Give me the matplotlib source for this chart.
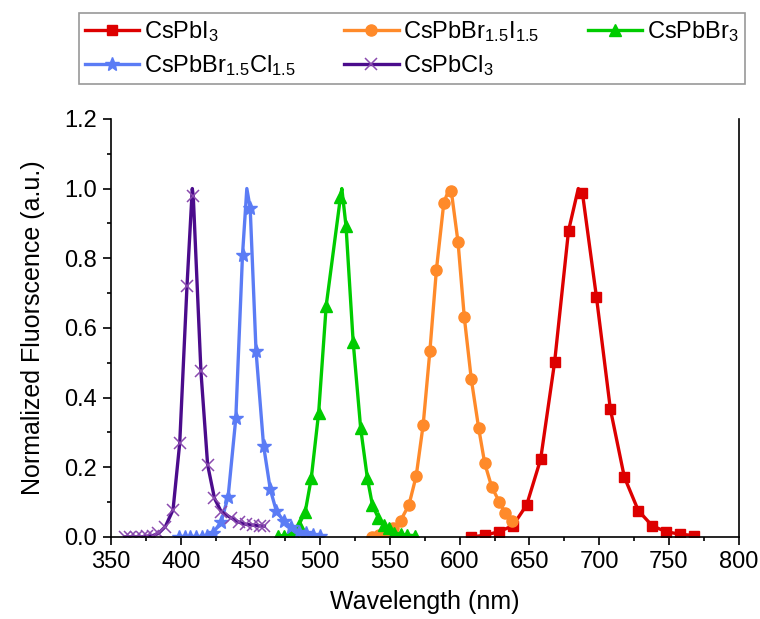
import numpy as np
import matplotlib.pyplot as plt
from matplotlib.ticker import MultipleLocator

plt.rcParams['font.family'] = ['Liberation Sans', 'DejaVu Sans']
plt.rcParams['mathtext.fontset'] = 'custom'
plt.rcParams['mathtext.rm'] = 'Liberation Sans'
plt.rcParams['mathtext.it'] = 'Liberation Sans:italic'

# CsPbI3 (red, squares)
wl_i3 = [608, 618, 628, 638, 648, 658, 668, 678, 688, 698, 708, 718, 728, 738, 748, 758, 768]
pl_i3 = [0.0, 0.005, 0.015, 0.032, 0.092, 0.223, 0.501, 0.879, 0.986, 0.689, 0.367,
         0.172, 0.076, 0.032, 0.015, 0.008, 0.004]
peak_i3 = (685, 1.0)

# CsPbBr1.5I1.5 (orange, circles)
wl_bri = [537, 542, 547, 552.5, 557.6, 563.6, 568.8, 573.8, 578.6, 583.3, 588.6, 594,
          598.8, 603.3, 608.3, 613.6, 617.9, 623, 628.4, 632.6, 637.4]
pl_bri = [0.0, 0.006, 0.015, 0.025, 0.047, 0.092, 0.175, 0.322, 0.533, 0.767, 0.959, 0.992,
          0.846, 0.63, 0.453, 0.312, 0.212, 0.143, 0.101, 0.068, 0.047]
peak_bri = (592.5, 1.0)

# CsPbBr3 (green, triangles)
wl_br3 = [470, 474, 478, 481, 484.6, 489.3, 493.6, 498.9, 504.3, 514.5, 518.5, 523.6, 529,
          533.8, 537.4, 541.7, 545.7, 549, 553, 557.6, 562.4, 568]
pl_br3 = [0.003, 0.004, 0.005, 0.008, 0.034, 0.073, 0.169, 0.357, 0.664, 0.975, 0.892, 0.561,
          0.312, 0.169, 0.092, 0.054, 0.034, 0.025, 0.012, 0.008, 0.005, 0.004]
peak_br3 = (515.5, 1.0)

# CsPbBr1.5Cl1.5 (blue, stars)
wl_brcl = [399, 403, 407, 411, 415, 419, 423, 429, 434, 439.5, 444.3, 449.8, 454, 459.4,
           464.2, 468.5, 474, 479, 485, 490, 495, 500]
pl_brcl = [0.0, 0.0, 0.0, 0.0, 0.0, 0.003, 0.01, 0.044, 0.116, 0.341, 0.81, 0.944, 0.533,
           0.262, 0.137, 0.075, 0.045, 0.03, 0.015, 0.01, 0.006, 0.004]
peak_brcl = (447.4, 1.0)

# CsPbCl3 (purple, crosses)
wl_cl3 = [360, 364, 368, 372, 376, 380, 384, 389, 394.5, 399.3, 404.5, 409, 414.5, 419.3,
          424.2, 429, 436, 442, 447, 452, 456.5, 460]
pl_cl3 = [0.0, 0.0, 0.0, 0.0, 0.002, 0.004, 0.01, 0.03, 0.078, 0.27, 0.72, 0.978, 0.475,
          0.207, 0.111, 0.073, 0.055, 0.042, 0.036, 0.034, 0.032, 0.031]
peak_cl3 = (408.3, 1.0)

labels = [r'CsPbI$_3$', r'CsPbBr$_{1.5}$I$_{1.5}$', r'CsPbBr$_3$',
          r'CsPbBr$_{1.5}$Cl$_{1.5}$', r'CsPbCl$_3$']


def with_peak(wl, val, peak):
    # add the top of the curve to the line, markers only on measured points
    x = np.append(wl, peak[0])
    y = np.append(val, peak[1])
    order = np.argsort(x)
    marks = [i for i, o in enumerate(order) if o < len(wl)]
    return x[order], y[order], marks


fig = plt.figure(figsize=(7.6, 6.19), dpi=100)
ax = fig.add_axes([0.146, 0.1325, 0.826, 0.6755])

series = [
    (wl_i3, pl_i3, peak_i3, '#DD0000', 's', '#DD0000', 7.5, 1),
    (wl_bri, pl_bri, peak_bri, '#FF8A2A', 'o', '#FF8A2A', 8, 1),
    (wl_br3, pl_br3, peak_br3, '#00CC00', '^', '#00CC00', 8, 1),
    (wl_brcl, pl_brcl, peak_brcl, '#5B7CF5', '*', '#5B7CF5', 10, 1),
    (wl_cl3, pl_cl3, peak_cl3, '#4B0C8C', 'x', '#8A4BAF', 9, 1.1),
]

handles = []
for (wl, val, peak, c, m, mc, ms, mew), lab in zip(series, labels):
    x, y, marks = with_peak(wl, val, peak)
    h, = ax.plot(x, y, color=c, lw=2.4, marker=m, markevery=marks, ms=ms,
                 mfc=mc, mec=mc, mew=mew, label=lab, solid_joinstyle='round')
    handles.append(h)

ax.set_xlim(350, 800)
ax.set_ylim(0, 1.2)
ax.xaxis.set_major_locator(MultipleLocator(50))
ax.xaxis.set_minor_locator(MultipleLocator(25))
ax.yaxis.set_major_locator(MultipleLocator(0.2))
ax.yaxis.set_minor_locator(MultipleLocator(0.1))
ax.yaxis.set_major_formatter(plt.FuncFormatter(lambda v, p: f'{v:.1f}'))
ax.tick_params(which='major', direction='out', length=6, width=1.2, labelsize=17, pad=4)
ax.tick_params(which='minor', direction='out', length=3, width=1.2)
ax.spines['top'].set_visible(False)
for s in ['left', 'bottom', 'right']:
    ax.spines[s].set_linewidth(1.2)

ax.set_xlabel('Wavelength (nm)', fontsize=18, labelpad=12)
ax.set_ylabel('Normalized Fluorscence (a.u.)', fontsize=18, labelpad=14)

# legend is filled column by column, so reorder to read row by row
order = [0, 3, 1, 4, 2]
leg = fig.legend([handles[i] for i in order], [labels[i] for i in order],
                 loc='upper left', bbox_to_anchor=(0.104, 0.859, 0.876, 0.12),
                 mode='expand', ncol=3, fontsize=17, frameon=True, fancybox=False,
                 handlelength=2.3, handletextpad=0.2, borderaxespad=0,
                 labelspacing=0.4, borderpad=0.25)
leg.get_frame().set_edgecolor('#7F7F7F')
leg.get_frame().set_linewidth(1.2)

fig.savefig('out.png', dpi=100)
